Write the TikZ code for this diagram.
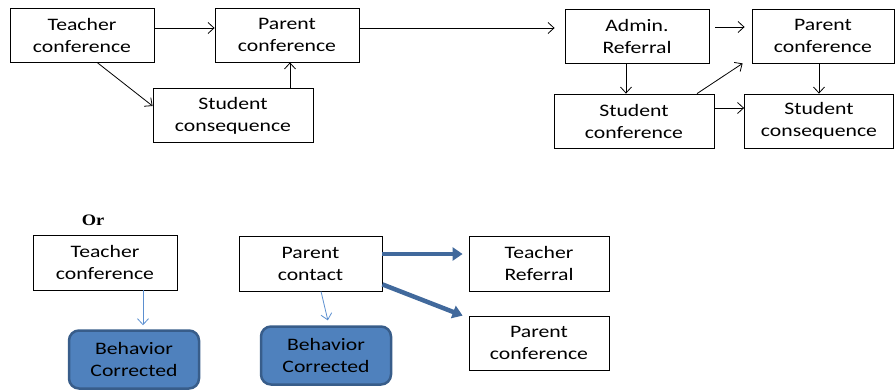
\documentclass[tikz,border=0pt]{standalone}
\usepackage{fontspec}
\setmainfont{Carlito}[FakeStretch=1.24]
\newfontfamily\orfont{Liberation Serif}[FakeStretch=1.15]
\usetikzlibrary{arrows.meta}
\definecolor{boxblue}{HTML}{4F81BD}
\definecolor{boxedge}{HTML}{385D8A}
\definecolor{thinblue}{HTML}{5B8FD0}
\definecolor{thickblue}{HTML}{41699C}

\begin{document}
\begin{tikzpicture}[x=1pt,y=-1pt,->,>={Straight Barb[length=6pt,width=11pt]},
  line width=0.8pt,
  box node/.style={rectangle,draw,line width=0.8pt,align=center,
  font=\fontsize{17.5}{22}\selectfont,inner sep=0pt,minimum height=54pt},
  done node/.style={rectangle,rounded corners=10pt,draw=boxedge,fill=boxblue,
  line width=2.5pt,align=center,font=\fontsize{17.5}{22}\selectfont,
  inner sep=0pt,minimum width=130pt,minimum height=58pt},
  thin link/.style={thinblue,line width=0.8pt},
  thick link/.style={thickblue,line width=4.5pt,-{Triangle[length=10pt,width=13pt]}}]
  \useasboundingbox (0,0) rectangle (895,391);

  % first line of steps
  \node[box node,minimum width=144pt] (TC) at (82,35) {Teacher\\conference};
  \node[box node,minimum width=144pt] (PC) at (287,35) {Parent\\conference};
  \node[box node,minimum width=160pt] (SQ) at (233,115.5) {Student\\consequence};
  \node[box node,minimum width=144pt] (AR) at (637,36) {Admin.\\Referral};
  \node[box node,minimum width=142pt] (PC2) at (823,36) {Parent\\conference};
  \node[box node,minimum width=160pt] (SC) at (634,121) {Student\\conference};
  \node[box node,minimum width=149pt] (SQ2) at (819,121) {Student\\consequence};

  \draw ([yshift=7pt]TC.east) -- ([yshift=7pt]PC.west);
  \draw ([xshift=15pt]TC.south) -- ([yshift=9.5pt]SQ.west);
  \draw ([xshift=57pt]SQ.north) -- ([xshift=3pt]PC.south);
  \draw[shorten >=10pt] ([yshift=7pt]PC.east) -- ([yshift=8pt]AR.west);
  \draw ([xshift=-11pt]AR.south) -- ([xshift=-11pt]AR.south |- SC.north);
  \draw[shorten <=6pt,shorten >=7pt] ([yshift=9pt]AR.east) -- ([yshift=9pt]PC2.west);
  \draw ([xshift=63pt]SC.north) -- ([xshift=-9pt]PC2.south west);
  \draw ([xshift=-4pt]PC2.south) -- (SQ2.north);
  \draw ([yshift=13pt]SC.east) -- ([yshift=13pt]SQ2.west);

  % second line
  \node[font=\orfont\bfseries\fontsize{16}{18}\selectfont] (OR) at (93,220) {Or};
  \node[box node,minimum width=144pt,minimum height=55pt] (TC2) at (105,262.5) {Teacher\\conference};
  \node[done node] (BC) at (134,359.5) {Behavior\\Corrected};
  \node[box node,minimum width=143pt,minimum height=55pt] (PCT) at (310.5,263.5) {Parent\\contact};
  \node[done node] (BC2) at (326,355.5) {Behavior\\Corrected};
  \node[box node,minimum width=140pt,minimum height=55pt] (TR) at (539,263.5) {Teacher\\Referral};
  \node[box node,minimum width=140pt] (PCB) at (539,343) {Parent\\conference};

  \draw[thin link,shorten >=4pt] ([xshift=38pt]TC2.south) -- ([xshift=9pt]BC.north);
  \draw[thin link,shorten >=5pt] ([xshift=10.5pt]PCT.south) -- ([xshift=3pt]BC2.north);
  \draw[thick link,shorten >=6pt] ([yshift=9.5pt]PCT.east) -- ([yshift=9.5pt]TR.west);
  \draw[thick link] ([yshift=7pt]PCT.south east) -- ([xshift=-6pt]PCB.north west);
\end{tikzpicture}
\end{document}
